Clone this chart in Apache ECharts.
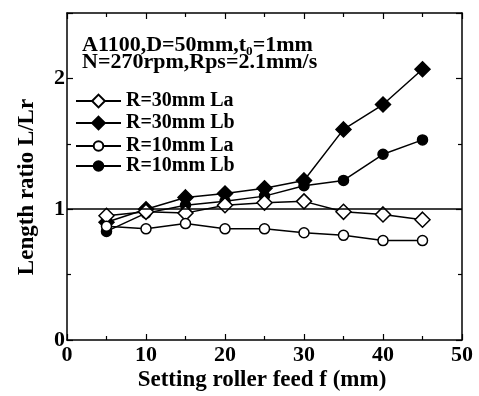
<!DOCTYPE html>
<html><head><meta charset="utf-8">
<script src="https://cdn.jsdelivr.net/npm/echarts@6/dist/echarts.min.js"></script>
<style>html,body{margin:0;padding:0;background:#fff}#c{width:479px;height:396px}</style>
</head><body><div id="c"></div>
<script>
var feed = [5, 10, 15, 20, 25, 30, 35, 40, 45];
var r30La = [0.95, 0.98, 0.97, 1.03, 1.05, 1.06, 0.98, 0.96, 0.92];
var r30Lb = [0.90, 1.00, 1.09, 1.12, 1.16, 1.22, 1.61, 1.80, 2.07];
var r10La = [0.87, 0.85, 0.89, 0.85, 0.85, 0.82, 0.80, 0.76, 0.76];
var r10Lb = [0.83, 0.97, 1.03, 1.06, 1.10, 1.18, 1.22, 1.42, 1.53];
var seriesNames = ['R=30mm La', 'R=30mm Lb', 'R=10mm La', 'R=10mm Lb'];
var yTickLabels = ['0', '1', '2'];
var xTickLabels = ['0', '10', '20', '30', '40', '50'];
var xTitle = 'Setting roller feed f (mm)';
var yTitle = 'Length ratio L/Lr';
var noteText = 'A1100,D=50mm,t\u2080=1mm\nN=270rpm,Rps=2.1mm/s';

var FONT = 'Liberation Serif';
function pairs(v){ return feed.map(function(x,i){return [x, v[i]];}); }
var chart = echarts.init(document.getElementById('c'), null, {renderer:'canvas'});
function mk(name, data, symbol, size, filled){
  return {
    name: name, type: 'line', data: pairs(data), symbol: symbol, symbolSize: size,
    xAxisIndex: 0, yAxisIndex: 0,
    lineStyle: {color: '#000', width: 1.5},
    itemStyle: {color: filled ? '#000' : '#fff', borderColor: '#000', borderWidth: 1.5},
    emphasis: {disabled: true}, z: filled ? 3 : 4
  };
}
var axisCommon = {
  axisLine: {onZero: false, lineStyle: {color: '#000', width: 1.5}},
  axisTick: {inside: true, length: 6, lineStyle: {color: '#000', width: 1.2}},
  minorTick: {show: true, splitNumber: 2, length: 4, lineStyle: {color: '#000', width: 1.2}},
  splitLine: {show: false}
};
var series = [
  mk(seriesNames[0], r30La, 'diamond', 15, false),
  mk(seriesNames[1], r30Lb, 'diamond', 15, true),
  mk(seriesNames[2], r10La, 'circle', 10, false),
  mk(seriesNames[3], r10Lb, 'circle', 10, true)
];
series[0].markLine = {silent: true, symbol: 'none', label: {show: false},
  lineStyle: {color: '#000', width: 1.5, type: 'solid'}, data: [{yAxis: 1}]};
var legendText = {fontFamily: FONT, fontSize: 20, fontWeight: 'bold', color: '#000'};
chart.setOption({
  animation: false,
  backgroundColor: '#fff',
  grid: {left: 67, right: 17, top: 13, bottom: 56},
  legend: [{
    orient: 'vertical', left: 75, top: 91, itemWidth: 45, itemHeight: 16, itemGap: 2,
    padding: 0, data: seriesNames.slice(0, 2), textStyle: legendText, selectedMode: false
  }, {
    orient: 'vertical', left: 75, top: 136, itemWidth: 45, itemHeight: 12, itemGap: 0,
    padding: 0, data: seriesNames.slice(2, 4), textStyle: legendText, selectedMode: false
  }],
  graphic: [{
    type: 'text', x: 82, y: 37, scaleX: 1.1,
    style: {text: noteText, fontFamily: FONT, fontSize: 20,
      fontWeight: 'bold', fill: '#000', lineHeight: 17}
  }, {
    type: 'text', x: 262, y: 380,
    style: {text: xTitle, fontFamily: FONT, fontSize: 23, fontWeight: 'bold', fill: '#000',
      align: 'center', verticalAlign: 'middle'}
  }, {
    type: 'text', x: 27, y: 187, rotation: Math.PI / 2,
    style: {text: yTitle, fontFamily: FONT, fontSize: 23, fontWeight: 'bold', fill: '#000',
      align: 'center', verticalAlign: 'middle'}
  }],
  xAxis: [
    Object.assign({type: 'value', min: 0, max: 50, interval: 10, position: 'bottom',
      axisLabel: {fontFamily: FONT, fontSize: 22, fontWeight: 'bold', color: '#000', margin: 4,
        formatter: function(v){ return xTickLabels[Math.round(v/10)]; }}}, axisCommon),
    Object.assign({type: 'value', min: 0, max: 50, interval: 10, position: 'top',
      axisLabel: {show: false}}, axisCommon)
  ],
  yAxis: [
    Object.assign({type: 'value', min: 0, max: 2.5, interval: 1, position: 'left',
      axisLabel: {fontFamily: FONT, fontSize: 22, fontWeight: 'bold', color: '#000', margin: 2,
        formatter: function(v){ var i = Math.round(v); return yTickLabels[i] !== undefined ? yTickLabels[i] : ''; }}}, axisCommon),
    Object.assign({type: 'value', min: 0, max: 2.5, interval: 1, position: 'right',
      axisLabel: {show: false}}, axisCommon)
  ],
  series: series
});
</script></body></html>
